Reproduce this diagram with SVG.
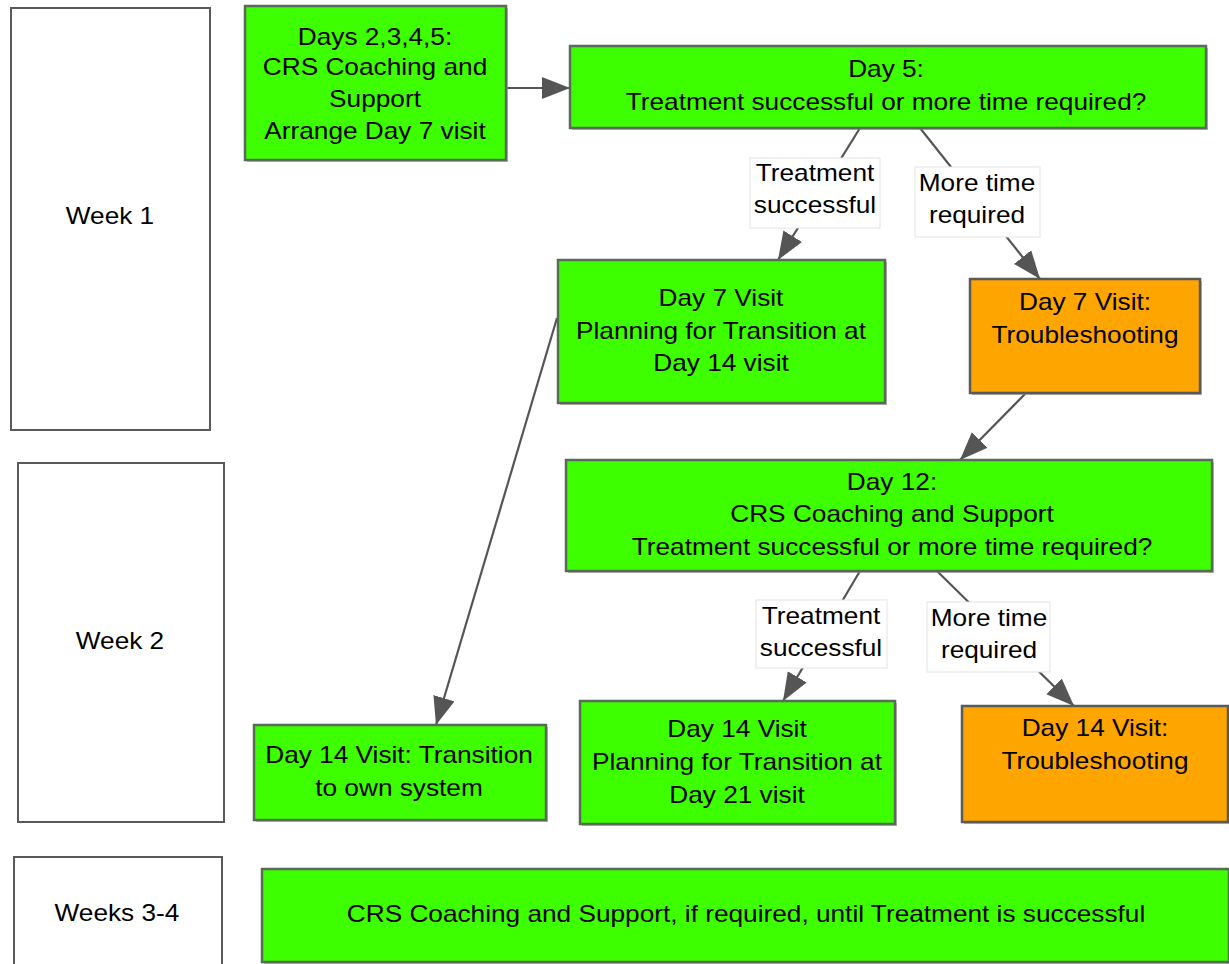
<svg xmlns="http://www.w3.org/2000/svg" width="1229" height="964" viewBox="0 0 1229 964">
<style>
text{font-family:"Liberation Sans",Arial,sans-serif;font-size:23px;fill:#000;text-anchor:middle}
.wk{fill:#fff;stroke:#5a5a5a;stroke-width:2}
.g{fill:#3dff00;stroke:#5a6a5a;stroke-width:2.5}
.o{fill:#ffa500;stroke:#5a5a5a;stroke-width:2.5}
.sh{fill:#8a8a7a;opacity:0.6}
.c{stroke:#555;stroke-width:2.2;fill:none;marker-end:url(#ah)}
.lb{fill:#fff;stroke:#e4e4e4;stroke-width:1}
</style>
<defs>
<marker id="ah" markerUnits="userSpaceOnUse" markerWidth="30" markerHeight="24" refX="28" refY="11" orient="auto">
<path d="M0,0 L28,11 L0,22 z" fill="#555"/>
</marker>
</defs>
<rect width="1229" height="964" fill="#fff"/>

<g id="week1"><rect class="wk" x="11" y="8" width="199" height="422"/><text transform="translate(110,224) scale(1.14,1)">Week 1</text></g>
<g id="week2"><rect class="wk" x="18" y="463" width="206" height="359"/><text transform="translate(120,649) scale(1.14,1)">Week 2</text></g>
<g id="week34"><rect class="wk" x="14" y="857" width="208" height="120"/><text transform="translate(117,921) scale(1.14,1)">Weeks 3-4</text></g>

<g id="connectors">
<path class="c" d="M506,88 L570,88"/>
<path class="c" d="M860,128 L778,260"/>
<path class="c" d="M920,128 L1040,279"/>
<path class="c" d="M557,318 L436,725"/>
<path class="c" d="M1025,394 L960,460"/>
<path class="c" d="M860,571 L783,701"/>
<path class="c" d="M937,571 L1074,706"/>
<g id="lbl1"><rect class="lb" x="750" y="158" width="130" height="70"/><text transform="translate(815,181) scale(1.14,1)">Treatment</text><text transform="translate(815,213) scale(1.14,1)">successful</text></g>
<g id="lbl2"><rect class="lb" x="915" y="167" width="125" height="70"/><text transform="translate(977,191) scale(1.14,1)">More time</text><text transform="translate(977,223) scale(1.14,1)">required</text></g>
<g id="lbl3"><rect class="lb" x="756" y="600" width="131" height="68"/><text transform="translate(821,624) scale(1.14,1)">Treatment</text><text transform="translate(821,656) scale(1.14,1)">successful</text></g>
<g id="lbl4"><rect class="lb" x="927" y="602" width="123" height="70"/><text transform="translate(989,626) scale(1.14,1)">More time</text><text transform="translate(989,658) scale(1.14,1)">required</text></g>
</g>

<g id="days2345"><rect class="sh" x="247" y="8" width="261" height="154"/><rect class="g" x="245" y="6" width="261" height="154"/>
<text transform="translate(375,45) scale(1.14,1)">Days 2,3,4,5:</text><text transform="translate(375,75) scale(1.14,1)">CRS Coaching and</text><text transform="translate(375,107) scale(1.14,1)">Support</text><text transform="translate(375,139) scale(1.14,1)">Arrange Day 7 visit</text></g>

<g id="day5"><rect class="sh" x="572" y="48" width="636" height="82"/><rect class="g" x="570" y="46" width="636" height="82"/>
<text transform="translate(886,77) scale(1.14,1)">Day 5:</text><text transform="translate(886,110) scale(1.14,1)">Treatment successful or more time required?</text></g>

<g id="day7green"><rect class="sh" x="560" y="262" width="327" height="143"/><rect class="g" x="558" y="260" width="327" height="143"/>
<text transform="translate(721,306) scale(1.14,1)">Day 7 Visit</text><text transform="translate(721,339) scale(1.14,1)">Planning for Transition at</text><text transform="translate(721,371) scale(1.14,1)">Day 14 visit</text></g>

<g id="day7orange"><rect class="sh" x="972" y="281" width="230" height="114"/><rect class="o" x="970" y="279" width="230" height="114"/>
<text transform="translate(1085,310) scale(1.14,1)">Day 7 Visit:</text><text transform="translate(1085,343) scale(1.14,1)">Troubleshooting</text></g>

<g id="day12"><rect class="sh" x="568" y="462" width="646" height="111"/><rect class="g" x="566" y="460" width="646" height="111"/>
<text transform="translate(892,490) scale(1.14,1)">Day 12:</text><text transform="translate(892,522) scale(1.14,1)">CRS Coaching and Support</text><text transform="translate(892,555) scale(1.14,1)">Treatment successful or more time required?</text></g>

<g id="day14transition"><rect class="sh" x="256" y="727" width="292" height="95"/><rect class="g" x="254" y="725" width="292" height="95"/>
<text transform="translate(399,763) scale(1.14,1)">Day 14 Visit: Transition</text><text transform="translate(399,796) scale(1.14,1)">to own system</text></g>

<g id="day14planning"><rect class="sh" x="582" y="703" width="315" height="123"/><rect class="g" x="580" y="701" width="315" height="123"/>
<text transform="translate(737,737) scale(1.14,1)">Day 14 Visit</text><text transform="translate(737,770) scale(1.14,1)">Planning for Transition at</text><text transform="translate(737,803) scale(1.14,1)">Day 21 visit</text></g>

<g id="day14orange"><rect class="sh" x="964" y="708" width="266" height="116"/><rect class="o" x="962" y="706" width="266" height="116"/>
<text transform="translate(1095,736) scale(1.14,1)">Day 14 Visit:</text><text transform="translate(1095,769) scale(1.14,1)">Troubleshooting</text></g>

<g id="crsbottom"><rect class="sh" x="264" y="871" width="967" height="93"/><rect class="g" x="262" y="869" width="967" height="93"/>
<text transform="translate(746,922) scale(1.14,1)">CRS Coaching and Support, if required, until Treatment is successful</text></g>
</svg>
